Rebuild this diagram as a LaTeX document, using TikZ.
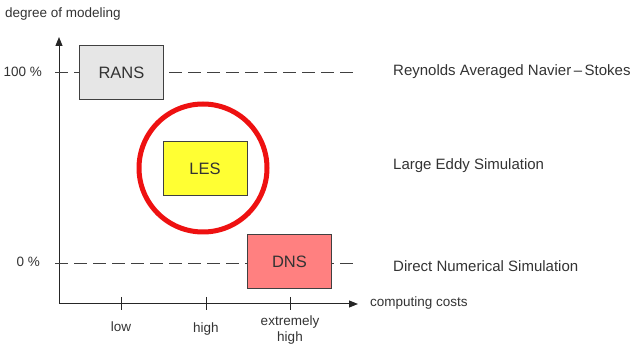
\documentclass[tikz,border=0pt]{standalone}
\usepackage{fontspec}
\setmainfont{Liberation Sans}
\usetikzlibrary{arrows.meta}
\definecolor{ink}{HTML}{333333}
\definecolor{ransfill}{HTML}{E6E6E6}
\definecolor{lesfill}{HTML}{FFFF33}
\definecolor{dnsfill}{HTML}{FF8080}
\definecolor{ringred}{HTML}{EE1111}
\tikzset{
  axis/.style={draw=black!85, line width=1pt, -{Triangle[length=9pt,width=7pt]}},
  level/.style={draw=black!75, line width=0.9pt, dash pattern=on 13pt off 6pt},
  tickmark/.style={draw=black!85, line width=0.9pt},
  model/.style={draw=black!75, line width=1pt, minimum width=84pt, minimum height=54pt,
    inner sep=0pt, font=\fontsize{16.5}{18}\selectfont, text=ink},
  small/.style={font=\fontsize{13.5}{16}\selectfont, text=ink, inner sep=0pt},
  long/.style={font=\fontsize{15}{18}\selectfont, text=ink, inner sep=0pt, anchor=west},
}
\begin{document}
\begin{tikzpicture}[x=1pt, y=-1pt]
  \useasboundingbox (0,0) rectangle (632,344);

  % axes
  \coordinate (O) at (59,304);
  \coordinate (ytip) at (59,37);
  \coordinate (xtip) at (358,304);
  \draw[axis] (O) -- (ytip);
  \draw[axis] (O) -- (xtip);

  % reference levels
  \coordinate (top0) at (55,72);
  \coordinate (top1) at (355,72);
  \coordinate (bot0) at (55,263);
  \coordinate (bot1) at (355,263);
  \draw[level] (top0) -- (top1);
  \draw[level] (bot0) -- (bot1);

  % ticks on the cost axis
  \foreach \x/\n in {121/t1, 206/t2, 290/t3} {
    \coordinate (\n a) at (\x,297);
    \coordinate (\n b) at (\x,310);
    \draw[tickmark] (\n a) -- (\n b);
  }

  % axis labels
  \node[small, anchor=west] (ylab) at (5,14) {degree of modeling};
  \node[small, anchor=west] (xlab) at (370,303) {computing costs};
  \node[small, anchor=east] (p100) at (42,72) {100 \%};
  \node[small, anchor=east] (p0) at (40,262) {0 \%};
  \node[small] (low) at (121,327) {low};
  \node[small] (high) at (206,329) {high};
  \node[small, align=center] (xhigh) at (290,330) {extremely\\high};

  % the three approaches
  \node[model, fill=ransfill] (rans) at (121.5,72.5) {RANS};
  \node[model, fill=lesfill] (les) at (205,169) {LES};
  \node[model, fill=dnsfill] (dns) at (289.5,262) {DNS};
  \node[draw=ringred, line width=5pt, circle, minimum size=128pt, inner sep=0pt] (ring) at (203,168) {};

  % names
  \node[long] (nrans) at (393,72) {Reynolds Averaged Navier\,--\,Stokes};
  \node[long] (nles) at (393,166) {Large Eddy Simulation};
  \node[long] (ndns) at (393,266) {Direct Numerical Simulation};
\end{tikzpicture}
\end{document}
